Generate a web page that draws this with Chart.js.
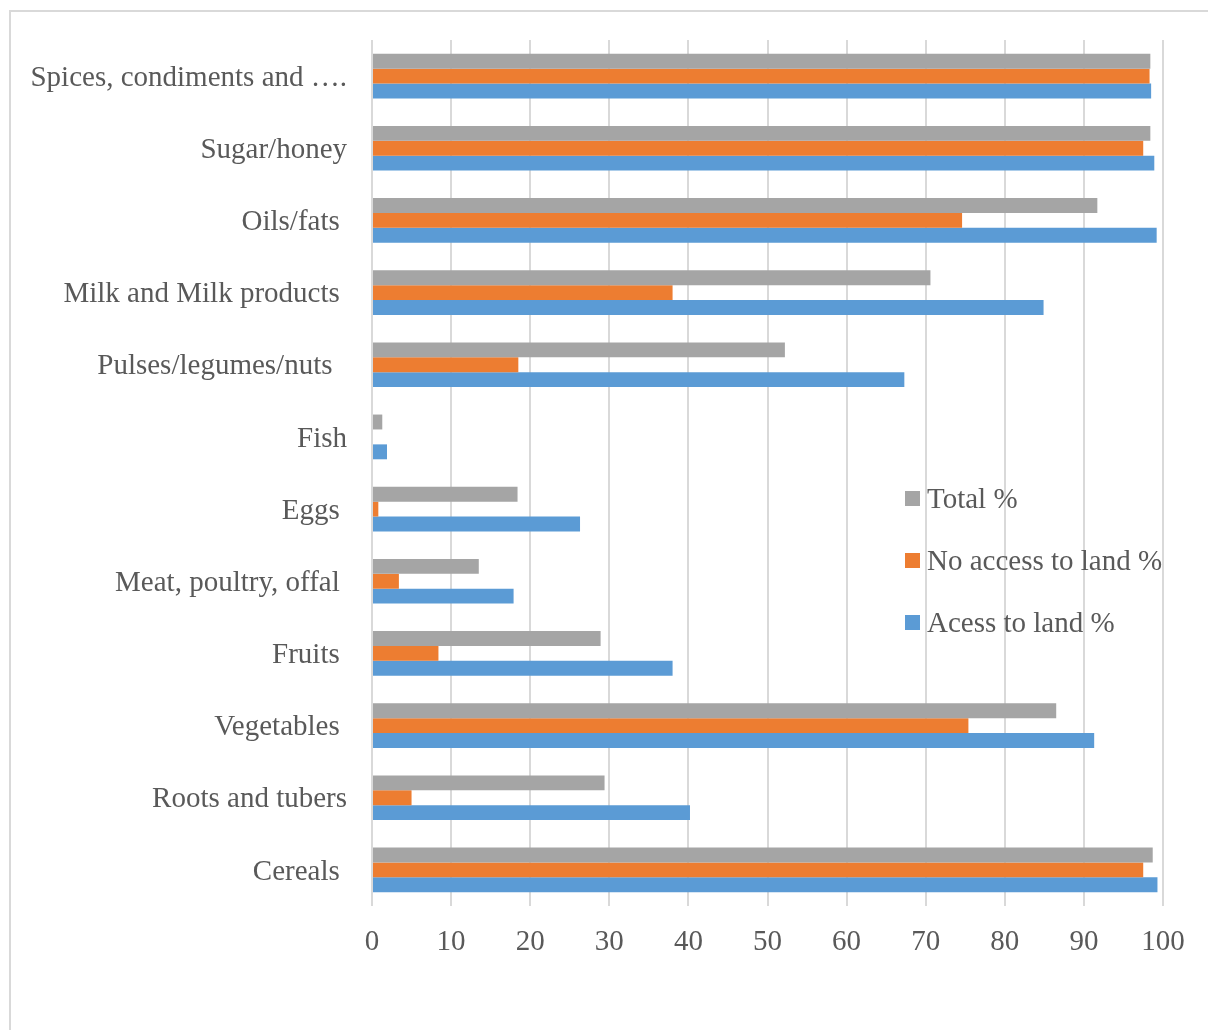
<!DOCTYPE html>
<html>
<head>
<meta charset="utf-8">
<script src="https://cdn.jsdelivr.net/npm/chart.js@4/dist/chart.umd.min.js"></script>
<style>
  html, body { margin:0; padding:0; background:#fff; overflow:hidden; }
  #wrap { position:relative; width:1208px; height:1030px; }
  #frame { position:absolute; left:9px; top:10px; width:1300px; height:1100px;
           border-left:2px solid #d9d9d9; border-top:2px solid #d9d9d9; }
  #c { position:absolute; left:0; top:0; }
  .leg { position:absolute; left:905px; height:32px; display:flex; align-items:center;
         font-family:"Liberation Serif","Times New Roman",serif; font-size:29px; color:#595959; white-space:nowrap; }
  .leg i { display:inline-block; width:15px; height:15px; margin-right:7px; }
</style>
</head>
<body>
<div id="wrap">
  <div id="frame"></div>
  <canvas id="c" width="1208" height="1030"></canvas>
  <div id="legend"></div>
</div>
<script>
// food groups, top to bottom as drawn
const CATEGORIES = ["Spices, condiments and ….", "Sugar/honey", "Oils/fats ", "Milk and Milk products ",
  "Pulses/legumes/nuts  ", "Fish", "Eggs ", "Meat, poultry, offal ", "Fruits ", "Vegetables ",
  "Roots and tubers", "Cereals "];
const TOTAL     = [98.4, 98.4, 91.7, 70.6, 52.2, 1.3, 18.4, 13.5, 28.9, 86.5, 29.4, 98.7];
const NO_ACCESS = [98.3, 97.5, 74.6, 38.0, 18.5, 0,   0.8,  3.4,  8.4,  75.4, 5.0,  97.5];
const ACCESS    = [98.5, 98.9, 99.2, 84.9, 67.3, 1.9, 26.3, 17.9, 38.0, 91.3, 40.2, 99.3];
const SERIES = ["Total %", "No access to land %", "Acess to land %"];
const COLORS = ["#a5a5a5", "#ed7d31", "#5b9bd5"];
const X_TICKS = [0, 10, 20, 30, 40, 50, 60, 70, 80, 90, 100];

const FONT = "'Liberation Serif', 'Times New Roman', serif";
const TXT = "#595959", GRID = "#d9d9d9";

new Chart(document.getElementById("c"), {
  type: "bar",
  data: {
    labels: CATEGORIES,
    datasets: [TOTAL, NO_ACCESS, ACCESS].map((d, i) => ({
      label: SERIES[i], data: d, backgroundColor: COLORS[i],
      categoryPercentage: 0.62, barPercentage: 1.0
    }))
  },
  options: {
    indexAxis: "y",
    responsive: false, animation: false,
    layout: { padding: { top: 40, left: 0, right: 45, bottom: 0 } },
    plugins: { legend: { display: false }, tooltip: { enabled: false } },
    scales: {
      x: {
        min: 0, max: 100,
        afterBuildTicks: s => { s.ticks = X_TICKS.map(v => ({ value: v })); },
        afterFit: s => { s.height = 124; },
        grid: { color: GRID, lineWidth: 2, drawTicks: false },
        border: { display: false },
        ticks: { color: TXT, font: { family: FONT, size: 29 }, padding: 19 }
      },
      y: {
        afterFit: s => { s.width = 372; },
        grid: { display: false },
        border: { display: false },
        ticks: { color: TXT, font: { family: FONT, size: 29 }, padding: 17, labelOffset: 2, autoSkip: false }
      }
    }
  }
});

// legend sits inside the plot, as in the original
const legTops = [498, 560, 622];
const legend = document.getElementById("legend");
SERIES.forEach((s, i) => {
  const d = document.createElement("div");
  d.className = "leg";
  d.style.top = (legTops[i] - 16) + "px";
  d.innerHTML = `<i style="background:${COLORS[i]}"></i>${s}`;
  legend.appendChild(d);
});
</script>
</body>
</html>
